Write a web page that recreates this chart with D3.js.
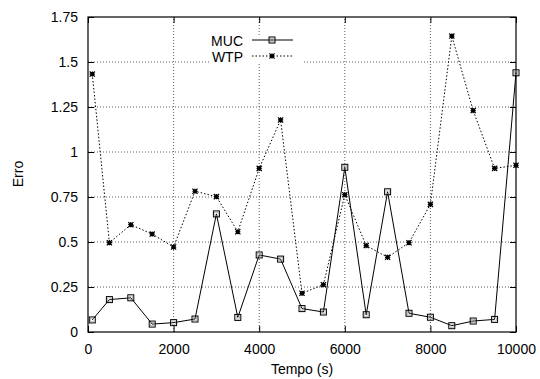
<!DOCTYPE html>
<html><head><meta charset="utf-8">
<script src="https://cdn.jsdelivr.net/npm/d3@7"></script>
<style>body{margin:0;background:#fff}svg{display:block}text{font-family:"Liberation Sans",Arial,sans-serif;font-size:14px;fill:#000}</style>
</head><body>
<script>
const times = [100,500,1000,1500,2000,2500,3000,3500,4000,4500,5000,5500,6000,6500,7000,7500,8000,8500,9000,9500,10000];
const mucValues = [0.067,0.18,0.19,0.044,0.052,0.072,0.656,0.081,0.428,0.405,0.13,0.111,0.915,0.096,0.779,0.104,0.082,0.035,0.061,0.070,1.44];
const wtpValues = [1.433,0.496,0.596,0.544,0.472,0.782,0.752,0.557,0.909,1.178,0.215,0.263,0.763,0.48,0.415,0.496,0.709,1.644,1.23,0.909,0.926];
const xTicks = [0,2000,4000,6000,8000,10000];
const yTicks = [0,0.25,0.5,0.75,1,1.25,1.5,1.75];
const seriesNames = ["MUC","WTP"];

const W=540,H=379;
const L=88,R=516,T=17,B=332;
const svg=d3.select("body").append("svg").attr("width",W).attr("height",H);
const x=d3.scaleLinear().domain([0,10000]).range([L,R]);
const y=d3.scaleLinear().domain([0,1.75]).range([B,T]);

// grid
const grid=svg.append("g").attr("stroke","#333").attr("stroke-width",0.8).attr("stroke-dasharray","1,2");
xTicks.slice(1,-1).forEach(t=>grid.append("line").attr("x1",x(t)).attr("x2",x(t)).attr("y1",B).attr("y2",T));
yTicks.slice(1,-1).forEach(t=>grid.append("line").attr("x1",L).attr("x2",R).attr("y1",y(t)).attr("y2",y(t)));

// legend background covering grid
svg.append("rect").attr("x",210).attr("y",35).attr("width",92).attr("height",29).attr("fill","#fff");

// axes
const xa=svg.append("g").attr("transform",`translate(0,${B})`).call(d3.axisBottom(x).tickValues(xTicks).tickSize(-6).tickPadding(12).tickFormat(d3.format("d")));
const xa2=svg.append("g").attr("transform",`translate(0,${T})`).call(d3.axisTop(x).tickValues(xTicks).tickSize(-6).tickFormat(""));
const ya=svg.append("g").attr("transform",`translate(${L},0)`).call(d3.axisLeft(y).tickValues(yTicks).tickSize(-6).tickPadding(10).tickFormat(d=>d3.format("")(d)));
const ya2=svg.append("g").attr("transform",`translate(${R},0)`).call(d3.axisRight(y).tickValues(yTicks).tickSize(-6).tickFormat(""));
[xa,xa2,ya,ya2].forEach(g=>{g.select(".domain").remove();g.selectAll("line").attr("stroke","#000");g.selectAll("text").attr("font-size",14).attr("font-family","Liberation Sans, Arial, sans-serif").attr("fill","#000");});
svg.append("rect").attr("x",L).attr("y",T).attr("width",R-L).attr("height",B-T).attr("fill","none").attr("stroke","#000").attr("stroke-width",1.2);

// labels
svg.append("text").attr("x",(L+R)/2).attr("y",374).attr("text-anchor","middle").text("Tempo (s)");
svg.append("text").attr("transform","translate(23,174) rotate(-90)").attr("text-anchor","middle").text("Erro");

const line=d3.line().x((d,i)=>x(times[i])).y(d=>y(d));
svg.append("path").datum(wtpValues).attr("d",line).attr("fill","none").attr("stroke","#000").attr("stroke-width",1).attr("stroke-dasharray","1.5,2");
svg.append("path").datum(mucValues).attr("d",line).attr("fill","none").attr("stroke","#000").attr("stroke-width",1);

function star(g,cx,cy){
  const s=2.6;
  g.append("path").attr("d",`M${cx-s},${cy}H${cx+s}M${cx},${cy-s}V${cy+s}M${cx-s},${cy-s}L${cx+s},${cy+s}M${cx-s},${cy+s}L${cx+s},${cy-s}`).attr("stroke","#000").attr("stroke-width",1.2);
  g.append("rect").attr("x",cx-1.8).attr("y",cy-1.8).attr("width",3.6).attr("height",3.6).attr("fill","#000");
}
function sq(g,cx,cy){
  g.append("rect").attr("x",cx-3).attr("y",cy-3).attr("width",6).attr("height",6).attr("fill","none").attr("stroke","#000").attr("stroke-width",1);
  g.append("rect").attr("x",cx-1.7).attr("y",cy-1.7).attr("width",3.4).attr("height",3.4).attr("fill","none").attr("stroke","#999").attr("stroke-width",0.6);
}
const gw=svg.append("g");
wtpValues.forEach((v,i)=>star(gw,x(times[i]),y(v)));
const gm=svg.append("g");
mucValues.forEach((v,i)=>sq(gm,x(times[i]),y(v)));

// legend
const lg=svg.append("g");
lg.append("text").attr("x",243).attr("y",46).attr("text-anchor","end").text(seriesNames[0]);
lg.append("text").attr("x",243).attr("y",62).attr("text-anchor","end").text(seriesNames[1]);
lg.append("line").attr("x1",252).attr("x2",293).attr("y1",40).attr("y2",40).attr("stroke","#000").attr("stroke-width",1);
lg.append("line").attr("x1",252).attr("x2",293).attr("y1",56).attr("y2",56).attr("stroke","#000").attr("stroke-width",1).attr("stroke-dasharray","1.5,2");
sq(lg,272,40); star(lg,272,56);
</script>
</body></html>
